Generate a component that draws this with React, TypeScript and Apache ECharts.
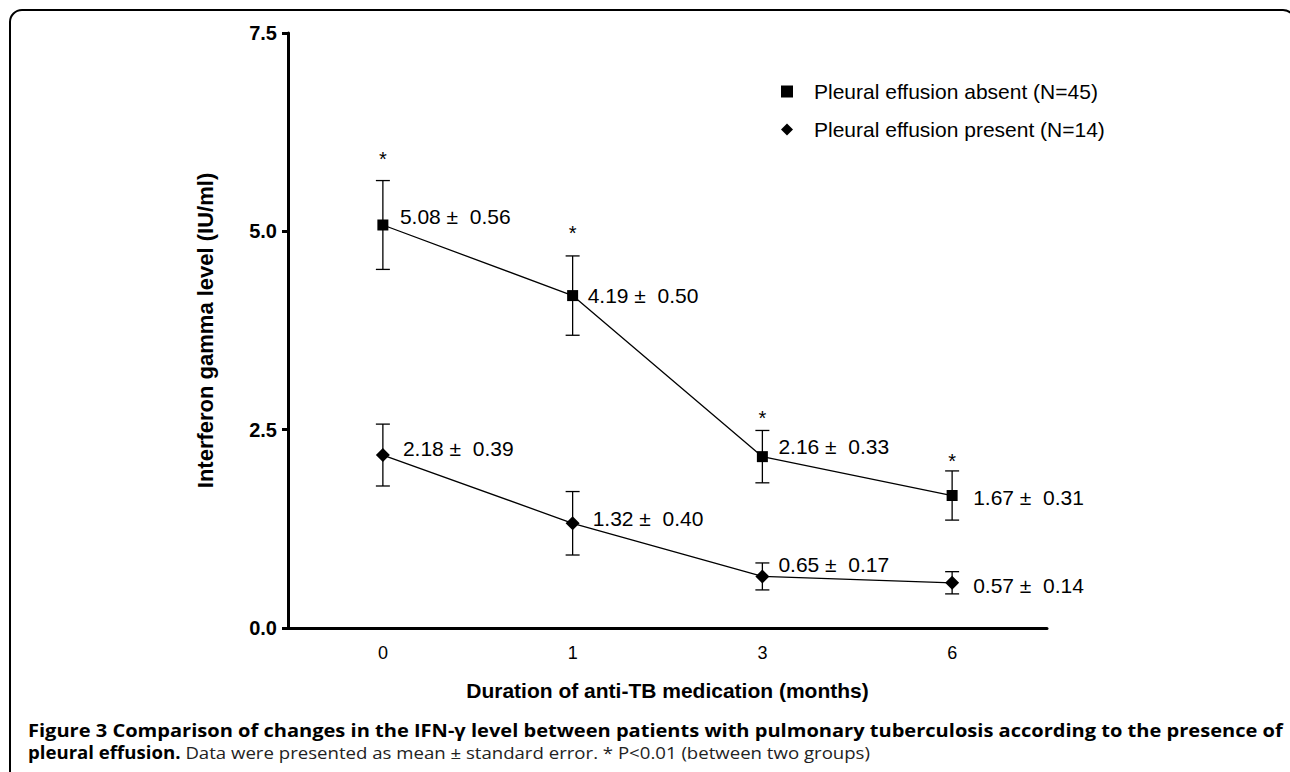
import React, { useEffect, useRef } from 'react';
import * as echarts from 'echarts';

// ---------- data ----------
const months = ['0', '1', '3', '6'];
const absentMean = [5.08, 4.19, 2.16, 1.67];
const absentSE = [0.56, 0.5, 0.33, 0.31];
const presentMean = [2.18, 1.32, 0.65, 0.57];
const presentSE = [0.39, 0.4, 0.17, 0.14];
const significant = [true, true, true, true];
const yMin = 0;
const yMax = 7.5;
const yStep = 2.5;

const absentName = 'Pleural effusion absent (N=45)';
const presentName = 'Pleural effusion present (N=14)';
const xTitle = 'Duration of anti-TB medication (months)';
const yTitle = 'Interferon gamma level (IU/ml)';
const captionLine1 =
  'Figure 3 Comparison of changes in the IFN-γ level between patients with pulmonary tuberculosis according to the presence of';
const captionBoldStart = 'pleural effusion.';
const captionRest = ' Data were presented as mean ± standard error. * P<0.01 (between two groups)';

// ---------- styles ----------
const FONT = '"Liberation Sans", Arial, Helvetica, sans-serif';
const CAP_FONT = '"Open Sans", "Noto Sans", sans-serif';
const absentLabelOffset = [[17, -8], [15, 0], [16, -10], [21, 2]];
const presentLabelOffset = [[20, -7], [20, -5], [16, -12], [21, 3]];
const starGap = [26, 27, 16, 14];

function fmt(m: number, s: number) {
  return `${m.toFixed(2)} ±\u00a0 ${s.toFixed(2)}`;
}

function errorSeries(mean: number[], se: number[], withStars: boolean) {
  return {
    type: 'custom',
    silent: true,
    z: 2,
    data: mean.map((m, i) => [i, m - se[i], m + se[i], withStars && significant[i] ? 1 : 0]),
    renderItem: (params: any, api: any) => {
      const idx = params.dataIndex;
      const x = api.value(0);
      const lo = api.coord([x, api.value(1)]);
      const hi = api.coord([x, api.value(2)]);
      const half = 7;
      const st = { stroke: '#000', lineWidth: 1.3 };
      const children: any[] = [
        { type: 'line', shape: { x1: lo[0], y1: lo[1], x2: hi[0], y2: hi[1] }, style: st },
        { type: 'line', shape: { x1: lo[0] - half, y1: lo[1], x2: lo[0] + half, y2: lo[1] }, style: st },
        { type: 'line', shape: { x1: hi[0] - half, y1: hi[1], x2: hi[0] + half, y2: hi[1] }, style: st },
      ];
      if (api.value(3)) {
        children.push({
          type: 'text',
          x: hi[0],
          y: hi[1] - starGap[idx] + 4,
          style: {
            text: '*',
            fontSize: 20,
            fontFamily: FONT,
            fill: '#000',
            align: 'center',
            verticalAlign: 'middle',
          },
        });
      }
      return { type: 'group', children };
    },
  };
}

function lineSeries(name: string, mean: number[], se: number[], symbol: string, size: number, offsets: number[][]) {
  return {
    type: 'line',
    name,
    z: 3,
    symbol,
    symbolSize: size,
    showAllSymbol: true,
    itemStyle: { color: '#000' },
    lineStyle: { color: '#000', width: 1.3 },
    data: mean.map((v, i) => ({ value: v, label: { offset: offsets[i] } })),
    label: {
      show: true,
      position: 'inside',
      align: 'left',
      verticalAlign: 'middle',
      color: '#000',
      fontSize: 21,
      fontFamily: FONT,
      formatter: (p: any) => fmt(mean[p.dataIndex], se[p.dataIndex]),
    },
  };
}

export default function App() {
  const ref = useRef<HTMLDivElement>(null);
  useEffect(() => {
    if (!ref.current) return;
    const chart = echarts.init(ref.current, null, { renderer: 'svg' });
    chart.setOption({
      animation: false,
      backgroundColor: '#fff',
      grid: { left: 288, top: 33, width: 759, height: 595 },
      legend: {
        left: 781,
        top: 81,
        orient: 'vertical',
        itemWidth: 12,
        itemHeight: 12,
        itemGap: 17,
        padding: 0,
        selectedMode: false,
        data: [
          { name: absentName, icon: 'rect' },
          { name: presentName, icon: 'diamond' },
        ],
        textStyle: { fontSize: 21, fontFamily: FONT, color: '#000', padding: [0, 0, 0, 16] },
      },
      xAxis: {
        type: 'category',
        data: months,
        boundaryGap: true,
        name: xTitle,
        nameLocation: 'middle',
        nameGap: 52,
        nameTextStyle: { fontSize: 21, fontWeight: 'bold', fontFamily: FONT, color: '#000' },
        axisLine: { lineStyle: { color: '#000', width: 3 } },
        axisTick: { alignWithLabel: true, length: 8, lineStyle: { color: '#000', width: 3 } },
        axisLabel: { fontSize: 18, fontFamily: FONT, color: '#000', margin: 16 },
        splitLine: { show: false },
      },
      yAxis: {
        type: 'value',
        min: yMin,
        max: yMax,
        interval: yStep,
        name: yTitle,
        nameLocation: 'middle',
        nameGap: 72,
        nameTextStyle: { fontSize: 22, fontWeight: 'bold', fontFamily: FONT, color: '#000' },
        axisLine: { show: true, lineStyle: { color: '#000', width: 3 } },
        axisTick: { show: true, length: 6, lineStyle: { color: '#000', width: 3 } },
        axisLabel: {
          fontSize: 20,
          fontWeight: 'bold',
          fontFamily: FONT,
          color: '#000',
          margin: 11,
          formatter: (v: number) => v.toFixed(1),
        },
        splitLine: { show: false },
      },
      series: [
        errorSeries(absentMean, absentSE, true),
        errorSeries(presentMean, presentSE, false),
        lineSeries(absentName, absentMean, absentSE, 'rect', 11, absentLabelOffset),
        lineSeries(presentName, presentMean, presentSE, 'diamond', 14, presentLabelOffset),
      ],
      graphic: [
        {
          type: 'rect',
          silent: true,
          shape: { x: 10, y: 10, width: 1285, height: 800, r: 12 },
          style: { fill: 'none', stroke: '#000', lineWidth: 2 },
        },
        {
          type: 'text',
          x: 28,
          y: 730,
          scaleX: 1.18,
          style: {
            text: captionLine1,
            fontSize: 17,
            fontWeight: 'bold',
            fontFamily: CAP_FONT,
            fill: '#000',
            verticalAlign: 'middle',
          },
        },
        {
          type: 'text',
          x: 28,
          y: 752,
          scaleX: 1.095,
          style: {
            text: `{b|${captionBoldStart}}{r|${captionRest}}`,
            verticalAlign: 'middle',
            rich: {
              b: { fontSize: 17, fontWeight: 'bold', fontFamily: CAP_FONT, fill: '#000' },
              r: { fontSize: 17, fontFamily: CAP_FONT, fill: '#222' },
            },
          },
        },
      ],
    });
    return () => chart.dispose();
  }, []);
  return (
    <div
      ref={ref}
      style={{ position: 'fixed', left: 0, top: 0, width: 1290, height: 772, background: '#fff' }}
    />
  );
}
